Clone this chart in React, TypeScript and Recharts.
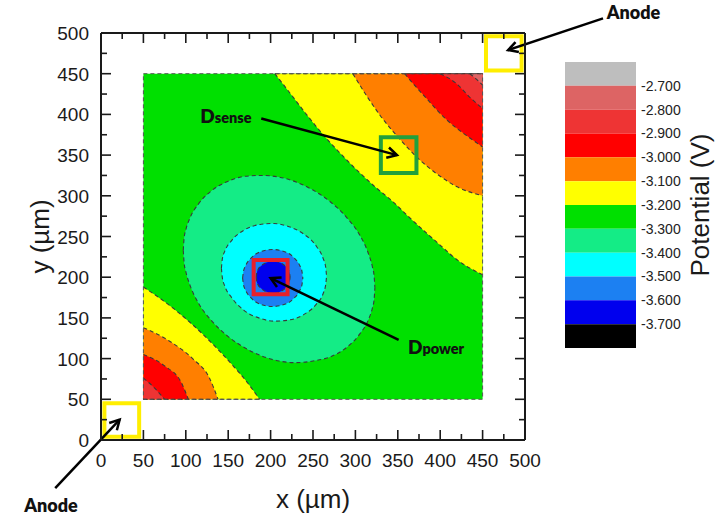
import React from 'react';
import { ComposedChart, Area, XAxis, YAxis, ReferenceArea, ReferenceLine, ReferenceDot, Label } from 'recharts';

// ---------- axes ----------
const AXIS_DOMAIN: [number, number] = [0, 500];
const AXIS_TICKS = [0, 25, 50, 75, 100, 125, 150, 175, 200, 225, 250, 275, 300, 325, 350, 375, 400, 425, 450, 475, 500];
const MAJOR_STEP = 50;

// simulated region (µm)
const REGION_MIN = 50;
const REGION_MAX = 450;

// ---------- colour scale (Potential, V) ----------
const CBAR_BOUNDS = [-2.6, -2.7, -2.8, -2.9, -3.0, -3.1, -3.2, -3.3, -3.4, -3.5, -3.6, -3.7, -3.8];
const LEVEL_TICKS = [-2.7, -2.8, -2.9, -3.0, -3.1, -3.2, -3.3, -3.4, -3.5, -3.6, -3.7];
const BAND_COLORS = ['#BEBEBE', '#DD6464', '#EE3434', '#FF0000', '#FF7F00', '#FFFF00', '#00E000', '#14EC86', '#00FFFF', '#1C80F2', '#0000EE', '#000000'];

// ---------- contour boundaries read from the map: [x, y] ----------
// upper-right corner (towards the top-right anode)
const UR_M32 = [[205, 450], [223, 426], [243, 399], [262, 375], [286, 348], [321, 313], [345, 292], [362, 275], [395, 244], [423, 219], [450, 203]];
const UR_M31 = [[297, 450], [315, 420], [329, 399], [352, 370], [376, 344], [396, 327], [420, 311], [450, 300]];
const UR_M30 = [[358, 450], [380, 424], [408, 393], [435, 371], [450, 360]];
const UR_M29 = [[400, 450], [419, 438], [435, 421], [450, 407]];
const UR_M28 = [[435, 450], [443, 443], [450, 436]];
// lower-left corner (towards the bottom-left anode)
const LL_M32 = [[50, 188], [85, 162], [122, 128], [155, 92], [173, 70], [187, 50]];
const LL_M31 = [[50, 138], [80, 122], [108, 100], [128, 76], [138, 50]];
const LL_M30 = [[50, 105], [75, 91], [95, 70], [103, 50]];
const LL_M29 = [[50, 76], [63, 64], [75, 50]];
// closed contours around Dpower: [x, lower y, upper y]
const EL_M33 = [[97, 233, 233], [98, 218, 248], [100, 207, 258], [105, 190, 273], [115, 168, 290], [130, 147, 306], [150, 127, 318], [170, 113, 324], [190, 103, 325], [210, 97, 323], [230, 95, 317], [250, 97, 307], [270, 102, 293], [290, 114, 273], [305, 130, 252], [315, 147, 230], [320, 162, 213], [322, 172, 202], [323, 187, 187]];
const EL_M34 = [[142, 211, 211], [143, 200, 222], [146, 189, 232], [154, 175, 245], [169, 159, 258], [189, 149, 265], [204, 146, 266], [219, 147, 263], [239, 154, 253], [254, 167, 238], [262, 180, 223], [265, 191, 212], [266, 201, 201]];
const EL_M35 = [[167, 199, 199], [168, 191, 207], [170.5, 184, 214], [177.5, 174, 224], [187.5, 167, 231], [202.5, 164, 234], [217.5, 167, 231], [227.5, 174, 224], [234.5, 184, 214], [237, 191, 207], [238, 199, 199]];
const EL_M36 = [[183, 200, 200], [183.5, 196, 204], [185, 191, 209], [189, 186, 214], [195, 182, 218], [203, 180, 220], [211, 182, 218], [217, 186, 214], [221, 191, 209], [222.5, 196, 204], [223, 200, 200]];

// ---------- electrodes / devices: x1, x2, y1, y2 ----------
const ANODES = [[4, 45, 4, 45], [454, 496, 454, 496]];
const DSENSE = [330, 372, 328, 372];
const DPOWER = [180, 220, 179, 221];

// arrows: [fromX, fromY, toX, toY]
const ARROWS = [[189, 395, 349, 350], [351, 123, 200, 199], [592, 518, 480, 479], [-54, -59, 22, 25]];
// annotations: [x, y, main, sub]
const NOTES: [number, number, string, string][] = [[117, 390, 'D', 'sense'], [362, 106, 'D', 'power']];
const ANODE_LABELS = [[628, 517], [-59, -88]];

const INK = '#1a1a1a';
const CONTOUR = '#3a3a3a';
const FONT = '"Liberation Sans", Arial, sans-serif';
const NOTE_FONT = 'Lato, "Open Sans", sans-serif';

const upperBand = (pts: number[][]) => pts.map(([x, y]) => ({ x, r: [y, REGION_MAX] }));
const lowerBand = (pts: number[][]) => pts.map(([x, y]) => ({ x, r: [REGION_MIN, y] }));
const closedBand = (pts: number[][]) => pts.map(([x, lo, hi]) => ({ x, r: [lo, hi] }));
const backgroundBand = [{ x: REGION_MIN, r: [REGION_MIN, REGION_MAX] }, { x: REGION_MAX, r: [REGION_MIN, REGION_MAX] }];

const C = {
  lred: BAND_COLORS[1], mred: BAND_COLORS[2], red: BAND_COLORS[3], orange: BAND_COLORS[4], yellow: BAND_COLORS[5],
  green: BAND_COLORS[6], spring: BAND_COLORS[7], cyan: BAND_COLORS[8], azure: BAND_COLORS[9], blue: BAND_COLORS[10],
};

const BANDS = [
  { data: upperBand(UR_M32), fill: C.yellow },
  { data: upperBand(UR_M31), fill: C.orange },
  { data: upperBand(UR_M30), fill: C.red },
  { data: upperBand(UR_M29), fill: C.mred },
  { data: upperBand(UR_M28), fill: C.lred },
  { data: lowerBand(LL_M32), fill: C.yellow },
  { data: lowerBand(LL_M31), fill: C.orange },
  { data: lowerBand(LL_M30), fill: C.red },
  { data: lowerBand(LL_M29), fill: C.mred },
  { data: closedBand(EL_M33), fill: C.spring },
  { data: closedBand(EL_M34), fill: C.cyan },
  { data: closedBand(EL_M35), fill: C.azure },
  { data: closedBand(EL_M36), fill: C.blue },
];

const CBAR_DATA = BAND_COLORS.map((c, i) => ({
  color: c,
  data: [{ x: 0, r: [CBAR_BOUNDS[i + 1], CBAR_BOUNDS[i]] }, { x: 1, r: [CBAR_BOUNDS[i + 1], CBAR_BOUNDS[i]] }],
}));

const tickLen = (v: number) => (v % MAJOR_STEP === 0 ? 10 : 6);
const isEdge = (v: number) => v === AXIS_DOMAIN[0] || v === AXIS_DOMAIN[1];

function BottomTick(p: any) {
  const { x, y, payload } = p;
  const v = payload.value;
  return (
    <g>
      {!isEdge(v) && <line x1={x} y1={y} x2={x} y2={y - tickLen(v)} stroke={INK} strokeWidth={1.6} />}
      {v % MAJOR_STEP === 0 && (
        <text x={x} y={y + 27} textAnchor="middle" fontSize={19} fill={INK} fontFamily={FONT}>{v}</text>
      )}
    </g>
  );
}
function TopTick(p: any) {
  const { x, y, payload } = p;
  const v = payload.value;
  if (isEdge(v)) return <g />;
  return <line x1={x} y1={y} x2={x} y2={y + tickLen(v)} stroke={INK} strokeWidth={1.6} />;
}
function LeftTick(p: any) {
  const { x, y, payload } = p;
  const v = payload.value;
  return (
    <g>
      {!isEdge(v) && <line x1={x} y1={y} x2={x + tickLen(v)} y2={y} stroke={INK} strokeWidth={1.6} />}
      {v % MAJOR_STEP === 0 && (
        <text x={x - 12} y={y + 7} textAnchor="end" fontSize={19} fill={INK} fontFamily={FONT}>{v}</text>
      )}
    </g>
  );
}
function RightTick(p: any) {
  const { x, y, payload } = p;
  const v = payload.value;
  if (isEdge(v)) return <g />;
  return <line x1={x} y1={y} x2={x - tickLen(v)} y2={y} stroke={INK} strokeWidth={1.6} />;
}

function XTitle(p: any) {
  const vb = p.viewBox || {};
  return (
    <text x={vb.x + vb.width / 2} y={vb.y + 68} textAnchor="middle" fontSize={26} fill={INK} fontFamily={FONT}>x (µm)</text>
  );
}
function YTitle(p: any) {
  const vb = p.viewBox || {};
  const cx = vb.x - 1;
  const cy = vb.y + vb.height / 2;
  return (
    <text x={cx} y={cy} transform={`rotate(-90, ${cx}, ${cy})`} textAnchor="middle" dominantBaseline="central" fontSize={26} fill={INK} fontFamily={FONT}>y (µm)</text>
  );
}
function PotentialTitle(p: any) {
  const vb = p.viewBox || {};
  const cx = vb.x + 64;
  const cy = vb.y + vb.height / 2;
  return (
    <text x={cx} y={cy} transform={`rotate(-90, ${cx}, ${cy})`} textAnchor="middle" dominantBaseline="central" fontSize={26} fill={INK} fontFamily={FONT}>Potential (V)</text>
  );
}

function ArrowShape(p: any) {
  const { x1, y1, x2, y2 } = p;
  const ang = Math.atan2(y2 - y1, x2 - x1);
  const L = 11;
  const spread = 0.5;
  const hx1 = x2 - L * Math.cos(ang - spread);
  const hy1 = y2 - L * Math.sin(ang - spread);
  const hx2 = x2 - L * Math.cos(ang + spread);
  const hy2 = y2 - L * Math.sin(ang + spread);
  return (
    <g>
      <line x1={x1} y1={y1} x2={x2} y2={y2} stroke="#000" strokeWidth={2.5} />
      <polyline points={`${hx1},${hy1} ${x2},${y2} ${hx2},${hy2}`} fill="none" stroke="#000" strokeWidth={2.5} />
    </g>
  );
}

export default function App() {
  const frameLine = { stroke: INK, strokeWidth: 2 };
  return (
    <div style={{ position: 'absolute', left: 0, top: 0, width: 716, height: 515, background: '#fff', fontFamily: FONT }}>
      <div style={{ position: 'absolute', left: 0, top: 0 }}>
        <ComposedChart width={716} height={515} margin={{ top: 32, right: 190, bottom: 45, left: 41 }}>
          <XAxis xAxisId={0} type="number" dataKey="x" domain={AXIS_DOMAIN} ticks={AXIS_TICKS} interval={0} allowDataOverflow
            tick={BottomTick} tickLine={false} tickSize={0} tickMargin={0} height={30} axisLine={frameLine}>
            <Label content={XTitle} />
          </XAxis>
          <XAxis xAxisId="top" orientation="top" type="number" dataKey="x" domain={AXIS_DOMAIN} ticks={AXIS_TICKS} interval={0} allowDataOverflow
            tick={TopTick} tickLine={false} tickSize={0} tickMargin={0} height={1} axisLine={frameLine} />
          <YAxis yAxisId={0} type="number" domain={AXIS_DOMAIN} ticks={AXIS_TICKS} interval={0} allowDataOverflow
            tick={LeftTick} tickLine={false} tickSize={0} tickMargin={0} width={60} axisLine={frameLine}>
            <Label content={YTitle} />
          </YAxis>
          <YAxis yAxisId="right" orientation="right" type="number" domain={AXIS_DOMAIN} ticks={AXIS_TICKS} interval={0} allowDataOverflow
            tick={RightTick} tickLine={false} tickSize={0} tickMargin={0} width={1} axisLine={frameLine} />

          <Area xAxisId="top" yAxisId="right" data={backgroundBand} dataKey="r" type="linear" fill={C.green} fillOpacity={1} stroke="none" isAnimationActive={false} dot={false} activeDot={false} />
          {BANDS.map((b, i) => (
            <Area key={i} data={b.data} dataKey="r" type="monotone" fill={b.fill} fillOpacity={1} stroke={CONTOUR}
              strokeWidth={1.1} strokeDasharray="4 3" isAnimationActive={false} dot={false} activeDot={false} />
          ))}
          <ReferenceArea x1={REGION_MIN} x2={REGION_MAX} y1={REGION_MIN} y2={REGION_MAX} fill="none" fillOpacity={0} stroke="#555" strokeWidth={1} strokeDasharray="4 3" ifOverflow="visible" />

          {ANODES.map((a, i) => (
            <ReferenceArea key={'an' + i} x1={a[0]} x2={a[1]} y1={a[2]} y2={a[3]} fill="none" fillOpacity={0} stroke="#FFEE00" strokeWidth={4} ifOverflow="visible" />
          ))}
          <ReferenceArea x1={DSENSE[0]} x2={DSENSE[1]} y1={DSENSE[2]} y2={DSENSE[3]} fill="none" fillOpacity={0} stroke="#22A03C" strokeWidth={4} ifOverflow="visible" />
          <ReferenceArea x1={DPOWER[0]} x2={DPOWER[1]} y1={DPOWER[2]} y2={DPOWER[3]} fill="none" fillOpacity={0} stroke="#E8202A" strokeWidth={4} ifOverflow="visible" />

          {ARROWS.map((a, i) => (
            <ReferenceLine key={'ar' + i} segment={[{ x: a[0], y: a[1] }, { x: a[2], y: a[3] }]} ifOverflow="visible" shape={ArrowShape} />
          ))}
          {NOTES.map((n, i) => (
            <ReferenceDot key={'n' + i} x={n[0]} y={n[1]} ifOverflow="visible"
              shape={(p: any) => (
                <text x={p.cx} y={p.cy} fontFamily={NOTE_FONT} fontWeight={800} fill="#111">
                  <tspan fontSize={19}>{n[2]}</tspan>
                  <tspan fontSize={14.5}>{n[3]}</tspan>
                </text>
              )} />
          ))}
          {ANODE_LABELS.map((a, i) => (
            <ReferenceDot key={'al' + i} x={a[0]} y={a[1]} ifOverflow="visible"
              shape={(p: any) => (
                <text x={p.cx} y={p.cy} textAnchor="middle" fontFamily={NOTE_FONT} fontWeight={800} fontSize={18} fill="#111">Anode</text>
              )} />
          ))}
        </ComposedChart>
      </div>

      <div style={{ position: 'absolute', left: 565, top: 62 }}>
        <ComposedChart width={151} height={286} margin={{ top: 0, right: 0, bottom: 0, left: 0 }}>
          <XAxis type="number" dataKey="x" domain={[0, 1]} hide />
          <YAxis orientation="right" type="number" domain={[CBAR_BOUNDS[CBAR_BOUNDS.length - 1], CBAR_BOUNDS[0]]} ticks={LEVEL_TICKS} interval={0}
            width={80} tickLine={false} axisLine={false} tickSize={0} tickMargin={5}
            tick={{ fontSize: 14, fill: '#222', fontFamily: FONT }} tickFormatter={(v: number) => v.toFixed(3)}>
            <Label content={PotentialTitle} />
          </YAxis>
          {CBAR_DATA.map((b, i) => (
            <Area key={i} data={b.data} dataKey="r" type="linear" fill={b.color} fillOpacity={1} stroke="none" isAnimationActive={false} dot={false} activeDot={false} />
          ))}
        </ComposedChart>
      </div>
    </div>
  );
}
